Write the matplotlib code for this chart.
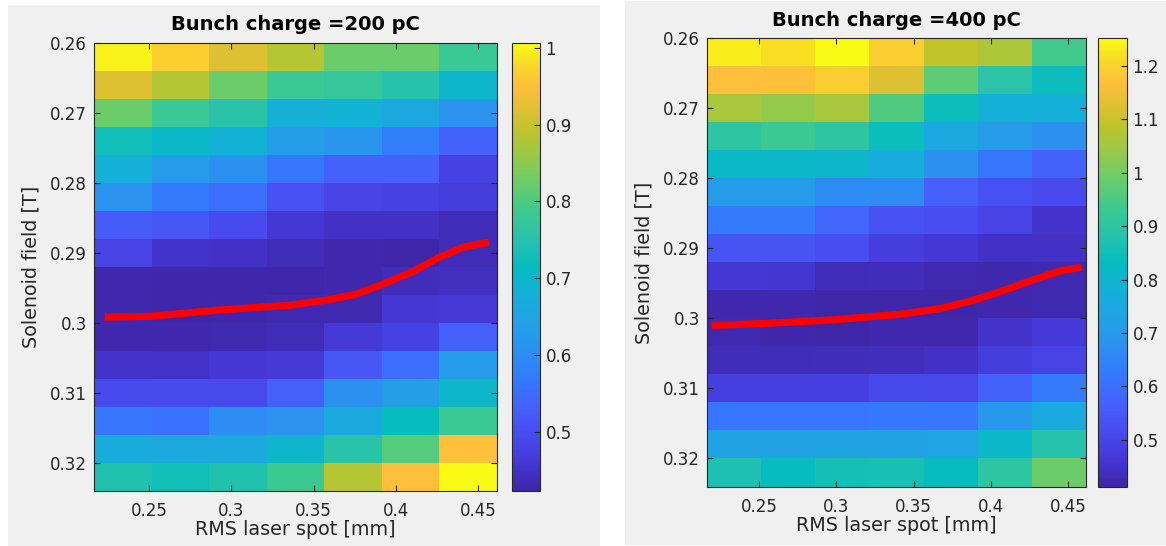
import numpy as np
import matplotlib
matplotlib.use('Agg')
import matplotlib.pyplot as plt
from matplotlib.colors import LinearSegmentedColormap
from matplotlib.patches import Rectangle
from matplotlib.ticker import FormatStrFormatter

# grid of the scan
spot = [0.234, 0.269, 0.304, 0.339, 0.374, 0.409, 0.444]
field = [0.262, 0.266, 0.270, 0.274, 0.278, 0.282, 0.286, 0.290,
         0.294, 0.298, 0.302, 0.306, 0.310, 0.314, 0.318, 0.322]

# values, rows = solenoid field, cols = laser spot
emit_200 = [
    [0.998, 0.966, 0.919, 0.884, 0.826, 0.826, 0.779],
    [0.919, 0.884, 0.826, 0.779, 0.773, 0.750, 0.697],
    [0.826, 0.779, 0.756, 0.680, 0.686, 0.657, 0.610],
    [0.727, 0.703, 0.686, 0.633, 0.616, 0.575, 0.534],
    [0.680, 0.627, 0.604, 0.563, 0.534, 0.534, 0.476],
    [0.610, 0.569, 0.551, 0.505, 0.481, 0.476, 0.470],
    [0.522, 0.516, 0.493, 0.458, 0.446, 0.446, 0.435],
    [0.481, 0.452, 0.446, 0.435, 0.429, 0.423, 0.435],
    [0.429, 0.426, 0.426, 0.423, 0.429, 0.438, 0.443],
    [0.429, 0.423, 0.426, 0.432, 0.432, 0.458, 0.464],
    [0.429, 0.429, 0.432, 0.435, 0.464, 0.476, 0.528],
    [0.452, 0.449, 0.458, 0.464, 0.516, 0.551, 0.627],
    [0.493, 0.493, 0.493, 0.528, 0.604, 0.633, 0.697],
    [0.563, 0.557, 0.598, 0.610, 0.662, 0.715, 0.779],
    [0.668, 0.662, 0.662, 0.697, 0.756, 0.808, 0.949],
    [0.744, 0.727, 0.744, 0.785, 0.884, 0.949, 1.007],
]

emit_400 = [
    [1.234, 1.217, 1.251, 1.192, 1.092, 1.067, 0.941],
    [1.167, 1.167, 1.192, 1.125, 0.974, 0.891, 0.840],
    [1.058, 1.033, 1.058, 0.958, 0.840, 0.782, 0.782],
    [0.899, 0.933, 0.899, 0.840, 0.748, 0.706, 0.673],
    [0.815, 0.815, 0.807, 0.765, 0.673, 0.614, 0.572],
    [0.706, 0.706, 0.664, 0.664, 0.564, 0.530, 0.514],
    [0.623, 0.623, 0.581, 0.530, 0.522, 0.497, 0.455],
    [0.539, 0.539, 0.522, 0.480, 0.463, 0.447, 0.447],
    [0.463, 0.459, 0.430, 0.434, 0.426, 0.421, 0.426],
    [0.421, 0.421, 0.413, 0.416, 0.416, 0.420, 0.426],
    [0.426, 0.417, 0.413, 0.420, 0.421, 0.455, 0.472],
    [0.430, 0.430, 0.434, 0.438, 0.447, 0.480, 0.497],
    [0.488, 0.488, 0.484, 0.509, 0.505, 0.572, 0.623],
    [0.614, 0.614, 0.614, 0.618, 0.618, 0.698, 0.757],
    [0.731, 0.731, 0.731, 0.731, 0.736, 0.815, 0.882],
    [0.866, 0.832, 0.857, 0.861, 0.832, 0.899, 0.991],
]

# optimum solenoid field curve
opt_x_200 = [0.223, 0.2505, 0.292, 0.3356, 0.360, 0.3762, 0.392, 0.4094, 0.427, 0.441, 0.4566]
opt_y_200 = [0.2992, 0.2991, 0.2982, 0.2975, 0.2967, 0.2959, 0.2945, 0.2928, 0.2906, 0.2892, 0.2885]
opt_x_400 = [0.2195, 0.2507, 0.2982, 0.3415, 0.367, 0.3887, 0.4058, 0.4273, 0.445, 0.4585]
opt_y_400 = [0.3010, 0.30075, 0.3002, 0.2994, 0.2986, 0.2974, 0.2962, 0.2945, 0.2932, 0.2927]

xticks = [0.25, 0.3, 0.35, 0.4, 0.45]
yticks = [0.26, 0.27, 0.28, 0.29, 0.3, 0.31, 0.32]
cticks_200 = [0.5, 0.6, 0.7, 0.8, 0.9, 1.0]
cticks_400 = [0.5, 0.6, 0.7, 0.8, 0.9, 1.0, 1.1, 1.2]

# parula-like colormap
parula_pts = [
    (0.00, (62, 38, 168)), (0.06, (69, 55, 213)), (0.125, (72, 76, 240)),
    (0.19, (69, 98, 252)), (0.25, (51, 122, 253)), (0.31, (44, 144, 240)),
    (0.375, (34, 162, 228)), (0.44, (20, 176, 216)), (0.50, (6, 188, 191)),
    (0.56, (39, 194, 172)), (0.625, (61, 202, 144)), (0.69, (107, 205, 105)),
    (0.75, (154, 201, 70)), (0.81, (194, 195, 44)), (0.90, (254, 190, 60)),
    (0.95, (248, 215, 40)), (1.00, (249, 251, 20)),
]
parula = LinearSegmentedColormap.from_list(
    'parula', [(p, tuple(c / 255 for c in rgb)) for p, rgb in parula_pts], N=256)

W, H = 1166, 546
DARK = '#262626'
plt.rcParams['font.family'] = 'DejaVu Sans'


def box(x0, y0, x1, y1):
    return [x0 / W, 1 - y1 / H, (x1 - x0) / W, (y1 - y0) / H]


def panel(fig, ax_box, cb_box, data, cx, cy, cticks, title):
    ax = fig.add_axes(box(*ax_box))
    cax = fig.add_axes(box(*cb_box))
    mesh = ax.pcolormesh(spot, field, np.array(data), cmap=parula, shading='nearest')
    ax.plot(cx, cy, color='red', linewidth=5.2, solid_capstyle='butt',
            solid_joinstyle='round')
    ax.set_xlim(0.2165, 0.4615)
    ax.set_ylim(0.324, 0.26)
    ax.set_xticks(xticks)
    ax.set_xticklabels(['%g' % t for t in xticks])
    ax.set_yticks(yticks)
    ax.set_yticklabels(['%g' % t for t in yticks])
    ax.tick_params(direction='in', top=True, right=True, length=4, width=0.8,
                   color=DARK, labelcolor=DARK, labelsize=12, pad=5)
    ax.tick_params(axis='x', pad=8)
    for s in ax.spines.values():
        s.set_color(DARK)
        s.set_linewidth(0.8)
    ax.set_xlabel('RMS laser spot [mm]', fontsize=13.8, color=DARK, labelpad=0)
    ax.set_ylabel('Solenoid field [T]', fontsize=13.8, color=DARK, labelpad=7)
    ax.set_title(title, fontsize=14, fontweight='bold', color='black', pad=9)

    cb = fig.colorbar(mesh, cax=cax, ticks=cticks)
    cb.ax.yaxis.set_major_formatter(FormatStrFormatter('%g'))
    cb.ax.tick_params(direction='in', length=4, width=0.8, color=DARK,
                      labelcolor=DARK, labelsize=12, pad=4)
    cb.outline.set_edgecolor(DARK)
    cb.outline.set_linewidth(0.8)
    return ax


fig = plt.figure(figsize=(W / 100, H / 100), dpi=100)
fig.patch.set_facecolor('white')
fig.patches.append(Rectangle((8 / W, 0), (600 - 8) / W, (546 - 5) / H,
                             transform=fig.transFigure, facecolor='#f0f0f0',
                             edgecolor='none', zorder=-5))
fig.patches.append(Rectangle((625 / W, 1 / H), (1166 - 625) / W, (545 - 1) / H,
                             transform=fig.transFigure, facecolor='#f0f0f0',
                             edgecolor='none', zorder=-5))

panel(fig, (94, 42.7, 497, 490.7), (512, 42.7, 540, 490.7), emit_200,
      opt_x_200, opt_y_200, cticks_200, 'Bunch charge =200 pC')
panel(fig, (707, 38.3, 1086, 486.5), (1098, 38.3, 1127, 486.5), emit_400,
      opt_x_400, opt_y_400, cticks_400, 'Bunch charge =400 pC')

fig.savefig('out.png', dpi=100, facecolor=fig.get_facecolor())
